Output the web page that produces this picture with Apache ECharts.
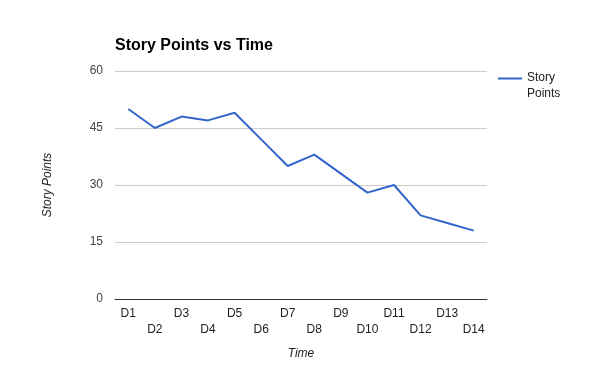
<!DOCTYPE html>
<html><head><meta charset="utf-8">
<script src="https://cdn.jsdelivr.net/npm/echarts@6/dist/echarts.min.js"></script>
<style>html,body{margin:0;padding:0;background:#fff}#c{width:600px;height:371px}</style>
</head><body><div id="c"></div>
<script>
const categories = ['D1','D2','D3','D4','D5','D6','D7','D8','D9','D10','D11','D12','D13','D14'];
const storyPoints = [50,45,48,47,49,42,35,38,33,28,30,22,20,18];
const yTicks = [0,15,30,45,60];

const chart = echarts.init(document.getElementById('c'), null, {renderer:'canvas'});
const font = '"Liberation Sans", Arial, sans-serif';
chart.setOption({
  animation:false,
  backgroundColor:'#fff',
  title:{text:'Story Points vs Time', left:110, top:33,
    textStyle:{fontFamily:font, fontSize:16, fontWeight:'bold', color:'#000'}},
  legend:{left:493, top:65, orient:'vertical',
    icon:'path://M0,7h24v2h-24z M0,0h0.05v0.05h-0.05z M0,31h0.05v0.05h-0.05z',
    itemWidth:24, itemHeight:32, itemGap:6,
    formatter:()=> 'Story\nPoints',
    textStyle:{fontFamily:font, fontSize:12, color:'#222', lineHeight:16}},
  grid:{left:115, right:113, top:71, bottom:72, containLabel:false},
  xAxis:{type:'category', data:categories, boundaryGap:true,
    name:'Time', nameLocation:'middle', nameGap:49,
    nameTextStyle:{fontFamily:font, fontSize:12, fontStyle:'italic', color:'#222'},
    axisLine:{lineStyle:{color:'#333', width:1}},
    axisTick:{show:false},
    axisLabel:{interval:0, margin:7, fontFamily:font, fontSize:12, color:'#222', lineHeight:16,
      formatter:(v,i)=> i%2 ? '\n'+v : v}},
  yAxis:{type:'value', min:0, max:60, interval:15,
    name:'Story Points', nameLocation:'middle', nameGap:61, nameRotate:90,
    nameTextStyle:{fontFamily:font, fontSize:12, fontStyle:'italic', color:'#222'},
    axisLine:{show:false}, axisTick:{show:false},
    axisLabel:{margin:12, fontFamily:font, fontSize:12, color:'#444',
      formatter:v=> yTicks.includes(v) ? String(v) : ''},
    splitLine:{lineStyle:{color:'#cccccc', width:1}}},
  series:[{name:'Story Points', type:'line', data:storyPoints,
    showSymbol:false, symbol:'none',
    lineStyle:{color:'#3366cc', width:2}, itemStyle:{color:'#3366cc'}}]
});
</script></body></html>
